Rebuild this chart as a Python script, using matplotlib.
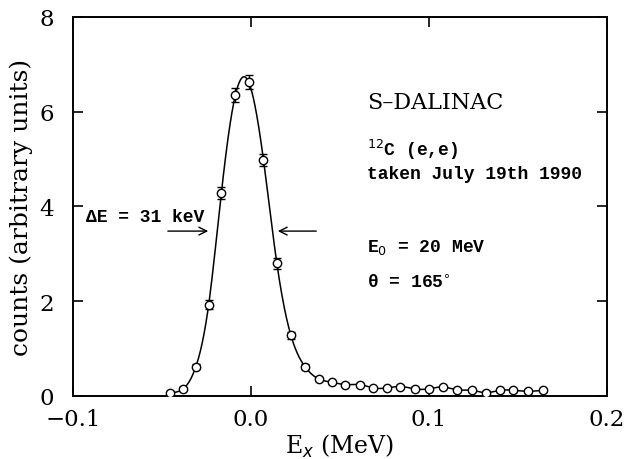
import numpy as np
import matplotlib
matplotlib.use("Agg")
import matplotlib.pyplot as plt

plt.rcParams.update({'font.family': 'DejaVu Serif', 'font.size': 14})

e_x = [-0.0457, -0.0382, -0.0310, -0.0238, -0.0167, -0.0088, -0.0014, 0.0070,
       0.0145, 0.0224, 0.0303, 0.0380, 0.0455, 0.0530, 0.0610, 0.0688, 0.0765,
       0.0840, 0.0920, 0.0998, 0.1077, 0.1158, 0.1240, 0.1320, 0.1400, 0.1475,
       0.1557, 0.1640]
counts = [0.07, 0.15, 0.62, 1.93, 4.28, 6.35, 6.63, 4.98, 2.80, 1.28, 0.62, 0.36,
          0.29, 0.24, 0.24, 0.17, 0.17, 0.20, 0.15, 0.15, 0.19, 0.13, 0.12, 0.07,
          0.12, 0.12, 0.10, 0.12]
err = [0.03, 0.03, 0.05, 0.09, 0.13, 0.15, 0.15, 0.13, 0.11, 0.07, 0.05, 0.04,
       0.03, 0.03, 0.03, 0.03, 0.03, 0.03, 0.03, 0.03, 0.03, 0.03, 0.03, 0.03,
       0.03, 0.03, 0.03, 0.03]


def natural_spline(x, y, n=600):
    x = np.asarray(x); y = np.asarray(y)
    m = len(x)
    h = np.diff(x)
    A = np.zeros((m, m)); b = np.zeros(m)
    A[0, 0] = A[-1, -1] = 1
    for i in range(1, m - 1):
        A[i, i - 1] = h[i - 1]
        A[i, i] = 2 * (h[i - 1] + h[i])
        A[i, i + 1] = h[i]
        b[i] = 6 * ((y[i + 1] - y[i]) / h[i] - (y[i] - y[i - 1]) / h[i - 1])
    M = np.linalg.solve(A, b)
    xs = np.linspace(x[0], x[-1], n)
    k = np.clip(np.searchsorted(x, xs) - 1, 0, m - 2)
    t1 = x[k + 1] - xs; t0 = xs - x[k]; hk = h[k]
    ys = (M[k] * t1**3 + M[k + 1] * t0**3) / (6 * hk) \
        + (y[k] / hk - M[k] * hk / 6) * t1 + (y[k + 1] / hk - M[k + 1] * hk / 6) * t0
    return xs, ys


fig = plt.figure(figsize=(6.25, 4.6), dpi=100)
ax = fig.add_axes([0.117, 0.137, 0.854, 0.824])

xs, ys = natural_spline(e_x, counts)
ax.plot(xs, ys, color='black', lw=1.1)
ax.errorbar(e_x, counts, yerr=err, fmt='o', mfc='white', mec='black', ms=6,
            mew=1.0, ecolor='black', elinewidth=1.0, capsize=3, zorder=3)

ax.set_xlim(-0.1, 0.2)
ax.set_ylim(0, 8)
ax.set_xticks([-0.1, 0.0, 0.1, 0.2])
ax.set_xticklabels(['\u22120.1', '0.0', '0.1', '0.2'])
ax.set_yticks([0, 2, 4, 6, 8])
ax.tick_params(direction='in', top=True, right=True, length=7, width=1.2,
               labelsize=16.5)
ax.tick_params(axis='x', pad=9)
ax.tick_params(axis='y', pad=14)
for s in ax.spines.values():
    s.set_linewidth(1.4)

ax.set_xlabel('E$_x$ (MeV)', fontsize=17, labelpad=1)
ax.set_ylabel('counts (arbitrary units)', fontsize=18, labelpad=4)

mono = dict(family='Liberation Mono', fontsize=13, weight='bold')
ax.text(0.065, 6.2, 'S\u2013DALINAC', fontsize=16, va='center')
ax.text(0.065, 5.22, '$^{12}$C (e,e)', va='center', **mono)
ax.text(0.065, 4.7, 'taken July 19th 1990', va='center', **mono)
ax.text(0.065, 3.15, 'E$_0$ = 20 MeV', va='center', **mono)
ax.text(0.065, 2.4, '\u03b8 = 165$^{\\circ}$', va='center', **mono)
ax.text(-0.093, 3.78, '\u0394E = 31 keV', va='center', **mono)

arr = dict(arrowstyle='->', color='black', lw=1.0)
ax.annotate('', xy=(-0.0225, 3.48), xytext=(-0.0483, 3.48), arrowprops=arr)
ax.annotate('', xy=(0.0135, 3.48), xytext=(0.0382, 3.48), arrowprops=arr)

fig.savefig('out.png', dpi=100)
